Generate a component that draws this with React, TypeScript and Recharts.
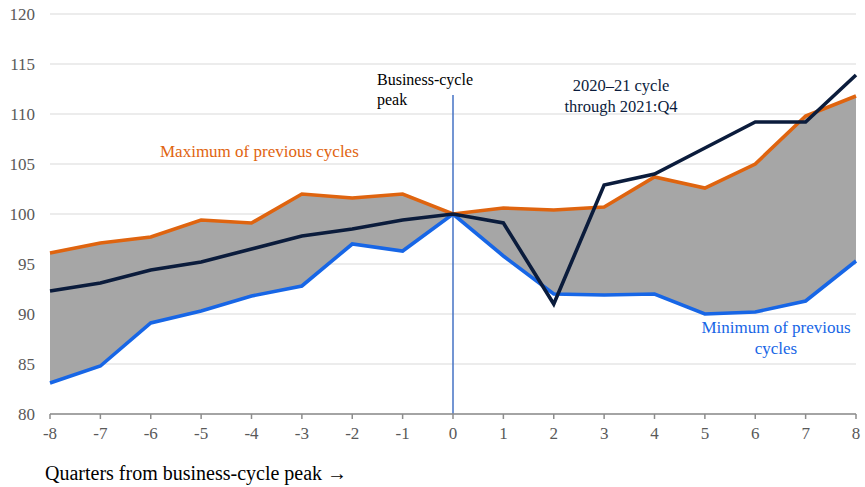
import {
    ComposedChart,
    Line,
    Area,
    XAxis,
    YAxis,
    CartesianGrid,
    ReferenceLine,
} from "recharts";

const quarters = [-8, -7, -6, -5, -4, -3, -2, -1, 0, 1, 2, 3, 4, 5, 6, 7, 8];
const maxPrev = [96.1, 97.1, 97.7, 99.4, 99.1, 102.0, 101.6, 102.0, 100, 100.6, 100.4, 100.7, 103.7, 102.6, 105.0, 109.8, 111.8];
const minPrev = [83.1, 84.8, 89.1, 90.3, 91.8, 92.8, 97.0, 96.3, 100, 95.8, 92.0, 91.9, 92.0, 90.0, 90.2, 91.3, 95.3];
const cycle2020 = [92.3, 93.1, 94.4, 95.2, 96.5, 97.8, 98.5, 99.4, 100, 99.1, 91.0, 102.9, 104.0, 106.6, 109.2, 109.2, 113.9];
const yTicks = [80, 85, 90, 95, 100, 105, 110, 115, 120];

const data = quarters.map((q, i) => ({
    q,
    max: maxPrev[i],
    min: minPrev[i],
    band: [minPrev[i], maxPrev[i]],
    cur: cycle2020[i],
}));

const FONT = "Liberation Serif, Tinos, Times New Roman, DejaVu Serif, serif";

export default function App() {
    return (
        <div style={{ position: "absolute", left: 0, top: 0, width: 865, height: 487, background: "#fff", fontFamily: FONT }}>
            <ComposedChart width={865} height={487} data={data} margin={{ top: 14, right: 9, bottom: 43, left: 0 }} style={{ fontFamily: FONT }}>
                <CartesianGrid vertical={false} stroke="#d9d9d9" strokeWidth={1.2} />
                <XAxis
                    dataKey="q"
                    type="number"
                    domain={[-8, 8]}
                    ticks={quarters}
                    interval={0}
                    height={30}
                    stroke="#8c8c8c"
                    strokeWidth={1.5}
                    tickSize={5}
                    tickMargin={8}
                    tick={{ fill: "#595959", fontSize: 17, fontFamily: FONT }}
                />
                <YAxis
                    domain={[80, 120]}
                    ticks={yTicks}
                    width={50}
                    axisLine={false}
                    tickLine={false}
                    tickSize={0}
                    tickMargin={15}
                    tick={{ fill: "#595959", fontSize: 17, fontFamily: FONT }}
                />
                {/* band between min and max of previous cycles */}
                <Area
                    type="linear"
                    dataKey="band"
                    fill="#a6a6a6"
                    fillOpacity={1}
                    stroke="none"
                    isAnimationActive={false}
                />
                <ReferenceLine
                    segment={[{ x: 0, y: 80 }, { x: 0, y: 111.9 }]}
                    stroke="#4472c4"
                    strokeWidth={1.5}
                />
                <Line type="linear" dataKey="min" stroke="#1766e6" strokeWidth={3.6} dot={false} isAnimationActive={false} />
                <Line type="linear" dataKey="max" stroke="#df640f" strokeWidth={3.6} dot={false} isAnimationActive={false} />
                <Line type="linear" dataKey="cur" stroke="#0b1c3c" strokeWidth={3.6} dot={false} isAnimationActive={false} />
            </ComposedChart>

            {/* annotations */}
            <div style={{ position: "absolute", left: 377, top: 70, fontSize: 16, lineHeight: "20px", color: "#000" }}>
                Business-cycle<br />peak
            </div>
            <div style={{ position: "absolute", left: 536, width: 170, top: 75, fontSize: 16.5, lineHeight: "21px", color: "#0b1c3c", textAlign: "center" }}>
                2020–21 cycle<br />through 2021:Q4
            </div>
            <div style={{ position: "absolute", left: 160, top: 142, fontSize: 17, lineHeight: "20px", color: "#df640f", whiteSpace: "nowrap" }}>
                Maximum of previous cycles
            </div>
            <div style={{ position: "absolute", left: 681, width: 190, top: 317, fontSize: 17, lineHeight: "21px", color: "#1766e6", textAlign: "center" }}>
                Minimum of previous<br />cycles
            </div>
            <div style={{ position: "absolute", left: 45, top: 462, fontSize: 20, color: "#000", whiteSpace: "nowrap" }}>
                Quarters from business-cycle peak →
            </div>
        </div>
    );
}
